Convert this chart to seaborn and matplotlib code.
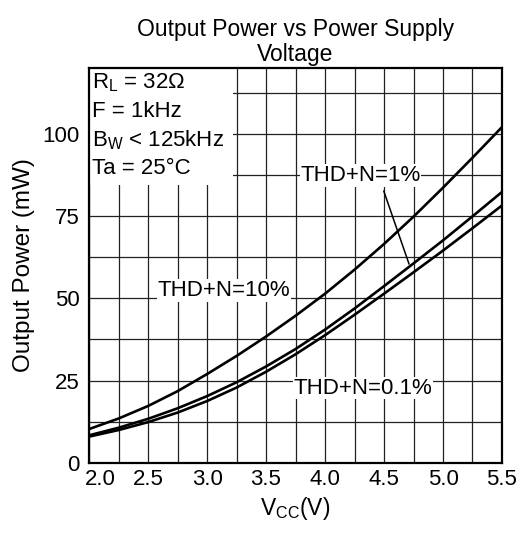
import matplotlib
matplotlib.use("Agg")
import matplotlib.pyplot as plt
import matplotlib.transforms as mtransforms
from matplotlib.patches import Rectangle
from matplotlib.ticker import MultipleLocator
import pandas as pd
import seaborn as sns

# ── data ────────────────────────────────────────────────────────────────
vcc = [2.0, 2.25, 2.5, 2.75, 3.0, 3.25, 3.5, 3.75, 4.0, 4.25, 4.5, 4.75, 5.0, 5.25, 5.5]
p_thd10 = [10.3, 13.5, 17.3, 21.8, 27.0, 32.5, 38.4, 44.7, 51.4, 58.7, 66.5, 74.8, 83.6, 92.7, 102.0]
p_thd1 = [8.4, 10.7, 13.4, 16.6, 20.3, 24.5, 29.3, 34.6, 40.5, 46.9, 53.7, 60.6, 67.6, 74.9, 82.3]
p_thd01 = [8.0, 10.0, 12.4, 15.3, 18.8, 22.9, 27.7, 33.0, 38.8, 45.0, 51.4, 57.9, 64.5, 71.3, 78.2]
curve_names = ["THD+N=10%", "THD+N=1%", "THD+N=0.1%"]

conditions = [r"R$_\mathrm{L}$ = 32Ω", "F = 1kHz", r"B$_\mathrm{W}$ < 125kHz", "Ta = 25°C"]
x_ticks = [2.0, 2.5, 3.0, 3.5, 4.0, 4.5, 5.0, 5.5]
y_ticks = [0, 25, 50, 75, 100]


def main():
    df = pd.DataFrame({
        "vcc": vcc * 3,
        "power": p_thd10 + p_thd1 + p_thd01,
        "curve": sum([[n] * len(vcc) for n in curve_names], []),
    })

    sns.set_style("white")
    plt.rcParams["font.family"] = ["Liberation Sans", "DejaVu Sans"]
    plt.rcParams["mathtext.fontset"] = "custom"
    plt.rcParams["mathtext.rm"] = "Liberation Sans"
    plt.rcParams["font.size"] = 16
    plt.rcParams["text.color"] = "black"
    plt.rcParams["axes.labelcolor"] = "black"

    fig, ax = plt.subplots(figsize=(5.24, 5.34), dpi=100)
    fig.subplots_adjust(left=0.170, right=0.958, top=0.873, bottom=0.133)

    sns.lineplot(data=df, x="vcc", y="power", hue="curve", palette=["black"] * 3,
                 legend=False, linewidth=1.9, ax=ax, zorder=4)

    # ── axes, grid ────────────────────────────────────────────────────────
    ax.set_xlim(2.0, 5.5)
    ax.set_ylim(0, 120)
    ax.set_xticks(x_ticks)
    ax.set_xticklabels([f"{t:.1f}" for t in x_ticks])
    ax.set_yticks(y_ticks)
    ax.xaxis.set_minor_locator(MultipleLocator(0.25))
    ax.yaxis.set_minor_locator(MultipleLocator(12.5))
    ax.grid(which="both", color="#222222", linewidth=0.9)
    ax.tick_params(which="both", length=0, labelsize=16, colors="black")
    ax.tick_params(axis="x", pad=4)
    ax.tick_params(axis="y", pad=7)
    for s in ax.spines.values():
        s.set_color("black")
        s.set_linewidth(1.6)

    # first x label is nudged right in the original
    first = ax.get_xticklabels()[0]
    first.set_transform(first.get_transform() +
                        mtransforms.ScaledTranslation(11 / 100, 0, fig.dpi_scale_trans))

    ax.set_xlabel(r"V$_\mathrm{CC}$(V)", fontsize=16.5, labelpad=4)
    ax.set_ylabel("Output Power (mW)", fontsize=17.5, labelpad=5)
    ax.set_title("Output Power vs Power Supply\nVoltage", fontsize=16.5,
                 linespacing=1.12, pad=5)

    # ── condition box ────────────────────────────────────────────────────
    ax.add_patch(Rectangle((2.0, 84.5), 1.22, 35.5, facecolor="white",
                           edgecolor="none", zorder=2))
    for i, line in enumerate(conditions):
        ax.text(2.025, 115.5 - i * 8.7, line, fontsize=16, va="center",
                ha="left", zorder=3)

    # ── curve labels ─────────────────────────────────────────────────────
    box = dict(facecolor="white", edgecolor="none", pad=0.5)
    ax.text(4.30, 87.3, curve_names[1], fontsize=16, ha="center", va="center",
            bbox=box, zorder=3)
    ax.text(3.14, 52.4, curve_names[0], fontsize=16, ha="center", va="center",
            bbox=box, zorder=3)
    ax.text(4.32, 22.7, curve_names[2], fontsize=16, ha="center", va="center",
            bbox=box, zorder=3)
    ax.annotate("", xy=(4.72, 59.6), xytext=(4.49, 83.4),
                arrowprops=dict(arrowstyle="-", color="black", lw=1.1), zorder=3)

    fig.savefig("out.png", dpi=100)


if __name__ == "__main__":
    main()
